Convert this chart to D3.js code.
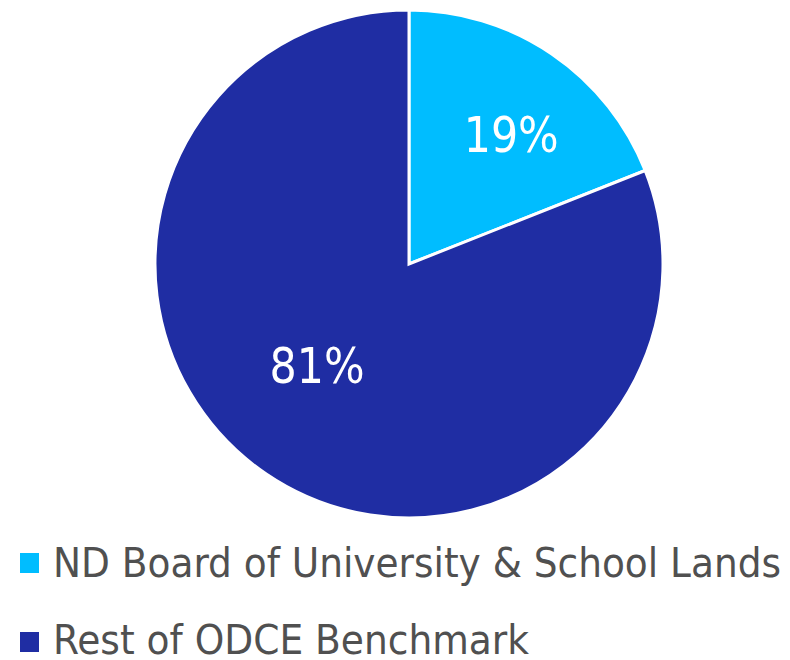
<!DOCTYPE html>
<html><head><meta charset="utf-8">
<script src="https://cdn.jsdelivr.net/npm/d3@7"></script>
<style>body{margin:0;background:#fff}</style>
</head><body>
<svg id="c" width="790" height="660"></svg>
<script>
const categories = ["ND Board of University & School Lands", "Rest of ODCE Benchmark"];
const values = [19, 81];
const labels = ["19%", "81%"];
const colors = ["#00BDFF", "#1F2DA3"];

const svg = d3.select("#c");
const cx = 409, cy = 264, R = 254;
const g = svg.append("g").attr("transform", `translate(${cx},${cy})`);
const pie = d3.pie().sort(null).value(d => d);
const arcs = pie(values);
const arc = d3.arc().innerRadius(0).outerRadius(R);
g.selectAll("path").data(arcs).join("path")
  .attr("d", arc).attr("fill", (d, i) => colors[i])
  .attr("stroke", "#fff").attr("stroke-width", 3).attr("stroke-linejoin", "miter");

const labelR = [0.66, 0.56];
const nudge = [[8, 9], [-12, -17]];
const font = "Tahoma, 'DejaVu Sans Condensed', 'DejaVu Sans', Verdana, sans-serif";
g.selectAll("text.lbl").data(arcs).join("text").attr("class", "lbl")
  .attr("transform", (d, i) => {
    const a = d3.arc().innerRadius(R * labelR[i]).outerRadius(R * labelR[i]);
    const c = a.centroid(d);
    return `translate(${c[0] + nudge[i][0]},${c[1] + nudge[i][1]})`;
  })
  .attr("text-anchor", "middle").attr("dy", "0.36em")
  .attr("font-family", font).attr("font-size", 50).attr("fill", "#fff")
  .attr("textLength", 95).attr("lengthAdjust", "spacingAndGlyphs")
  .text((d, i) => labels[i]);

const legend = svg.append("g");
const rowBase = [577, 654];
const boxTop = [553, 632];
const textW = [728, 476];
categories.forEach((c, i) => {
  legend.append("rect").attr("x", 20).attr("y", boxTop[i]).attr("width", 19).attr("height", 20).attr("fill", colors[i]);
  legend.append("text").attr("x", 53).attr("y", rowBase[i])
    .attr("font-family", font).attr("font-size", 40).attr("fill", "#505050")
    .attr("textLength", textW[i]).attr("lengthAdjust", "spacingAndGlyphs")
    .text(c);
});
</script>
</body></html>
